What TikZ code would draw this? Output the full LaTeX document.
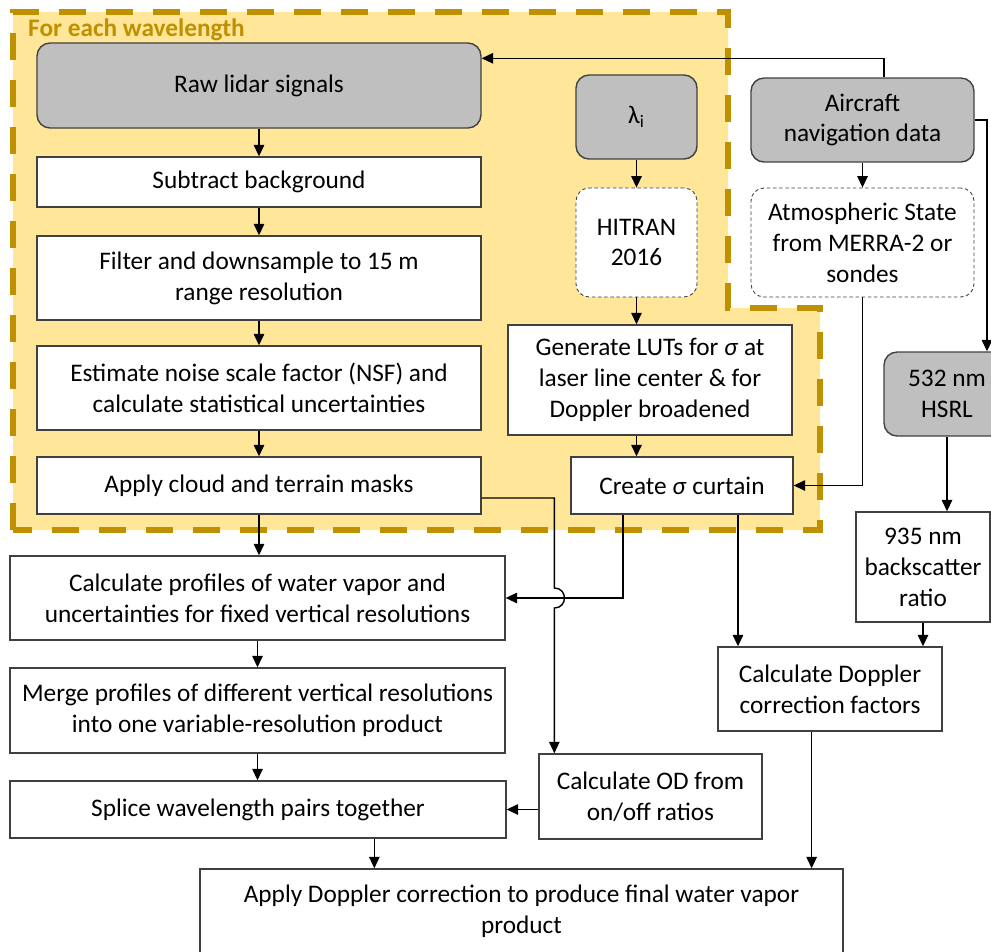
\documentclass[tikz,border=0pt]{standalone}
\usepackage{fontspec}
\setmainfont{Carlito}
\usetikzlibrary{positioning, arrows.meta, calc}
\definecolor{regionfill}{RGB}{255,230,153}
\definecolor{regionedge}{RGB}{191,144,0}
\definecolor{inputgray}{RGB}{191,191,191}
\definecolor{edgegray}{RGB}{64,64,64}

\begin{document}
\begin{tikzpicture}[x=0.02cm, y=-0.02cm,
    proc/.style={rectangle, draw=edgegray, fill=white, line width=0.8pt, align=center, inner sep=2pt, font=\fontsize{14.4}{17.6}\selectfont},
    source/.style={proc, fill=inputgray, rounded corners=0.26cm},
    database/.style={proc, rounded corners=0.26cm, line width=0.5pt, dash pattern=on 2pt off 1.5pt},
    arrow/.style={-{Triangle[length=2.3mm, width=2.1mm]}, line width=0.8pt}
]
\useasboundingbox (0,0) rectangle (991,951);

% Per-wavelength region
\draw[fill=regionfill, draw=regionedge, line width=3.4pt, dash pattern=on 0.54cm off 0.4cm]
    (13,530) -- (13,12) -- (728,12) -- (728,308) -- (820,308) -- (820,530) -- cycle;
\node[anchor=west, text=regionedge, font=\fontsize{14.4}{16}\selectfont\bfseries] (region) at (22,30) {For each wavelength};

% Main processing column
\node[source, minimum width=8.88cm, minimum height=1.7cm] (raw) at (259,85.5) {Raw lidar signals};
\node[proc, minimum width=8.88cm, minimum height=1.0cm] (sub) at (259,182) {Subtract background};
\node[proc, minimum width=8.88cm, minimum height=1.68cm] (filter) at (259,278) {Filter and downsample to 15 m\\range resolution};
\node[proc, minimum width=8.88cm, minimum height=1.68cm] (noise) at (259,388) {Estimate noise scale factor (NSF) and\\calculate statistical uncertainties};
\node[proc, minimum width=8.88cm, minimum height=1.14cm] (mask) at (259,485.5) {Apply cloud and terrain masks};
\node[proc, minimum width=9.9cm, minimum height=1.68cm] (profiles) at (257.5,598) {Calculate profiles of water vapor and\\uncertainties for fixed vertical resolutions};
\node[proc, minimum width=9.9cm, minimum height=1.7cm] (merge) at (257.5,710.5) {Merge profiles of different vertical resolutions\\into one variable-resolution product};
\node[proc, minimum width=9.92cm, minimum height=1.14cm] (splice) at (258,809.5) {Splice wavelength pairs together};
\node[proc, minimum width=12.86cm, minimum height=1.68cm] (final) at (521.5,911) {Apply Doppler correction to produce final water vapor\\product};

% Cross sections
\node[source, minimum width=2.42cm, minimum height=1.68cm] (lambda) at (636.5,117) {λ\textsubscript{i}};
\node[database, minimum width=2.42cm, minimum height=2.18cm] (hitran) at (636.5,242.5) {HITRAN\\2016};
\node[proc, minimum width=5.68cm, minimum height=2.2cm] (luts) at (650,380) {Generate LUTs for \textit{σ} at\\laser line center \& for\\Doppler broadened};
\node[proc, minimum width=4.44cm, minimum height=1.14cm] (curtain) at (682,485.5) {Create \textit{σ} curtain};
\node[proc, minimum width=4.46cm, minimum height=1.7cm] (od) at (650.5,796.5) {Calculate OD from\\on/off ratios};

% Ancillary inputs
\node[source, minimum width=4.46cm, minimum height=1.68cm] (aircraft) at (862.5,120) {Aircraft\\navigation data};
\node[database, minimum width=4.46cm, minimum height=2.18cm] (atmos) at (862.5,242.5) {Atmospheric State\\from MERRA-2 or\\sondes};
\node[source, minimum width=2.52cm, minimum height=1.68cm] (hsrl) at (947,394) {532 nm\\HSRL};
\node[proc, minimum width=2.68cm, minimum height=2.2cm] (ratio) at (923,567) {935 nm\\backscatter\\ratio};
\node[proc, minimum width=4.48cm, minimum height=1.68cm] (doppler) at (830,689) {Calculate Doppler\\correction factors};

% Entry points
\coordinate (finalinA) at ([xshift=3.5cm]final.north west);
\coordinate (finalinB) at ([xshift=-0.64cm]final.north east);
\coordinate (odin) at ([xshift=0.32cm]od.north west);
\coordinate (hop) at (odin |- profiles.east);

% Main column arrows
\draw[arrow] (raw) -- (sub);
\draw[arrow] (sub) -- (filter);
\draw[arrow] (filter) -- (noise);
\draw[arrow] (noise) -- (mask);
\draw[arrow] (mask) -- (mask.south |- profiles.north);
\draw[arrow] (profiles) -- (profiles.south |- merge.north);
\draw[arrow] (merge) -- (merge.south |- splice.north);
\draw[arrow] (splice.south -| finalinA) -- (finalinA);

% Cross section arrows
\draw[arrow] (lambda) -- (hitran);
\draw[arrow] (hitran) -- (hitran.south |- luts.north);
\draw[arrow] (luts.south -| hitran) -- (curtain.north -| hitran);
\draw[arrow] ([xshift=-1.18cm]curtain.south) |- (profiles.east);
\draw[arrow] ([xshift=1.12cm]curtain.south) -- ([xshift=1.12cm]curtain.south |- doppler.north);
\draw[arrow] ([yshift=-0.25cm]mask.east) -| ([yshift=0.2cm]hop)
    .. controls ([xshift=0.27cm, yshift=0.2cm]hop) and ([xshift=0.27cm, yshift=-0.2cm]hop) .. ([yshift=-0.2cm]hop) -- (odin);
\draw[arrow] (od.west |- splice.east) -- (splice.east);

% Ancillary arrows
\draw[arrow] ([xshift=0.43cm]aircraft.north) |- ([yshift=-0.32cm]raw.north east);
\draw[arrow] (aircraft) -- (atmos);
\draw[arrow] (aircraft.east) -| ([xshift=0.8cm]hsrl.north);
\draw[arrow] (atmos.south) |- (curtain.east);
\draw[arrow] (hsrl) -- (hsrl.south |- ratio.north);
\draw[arrow] (ratio.south) -- (ratio.south |- doppler.north);
\draw[arrow] (doppler.south -| finalinB) -- (finalinB);

\end{tikzpicture}
\end{document}
